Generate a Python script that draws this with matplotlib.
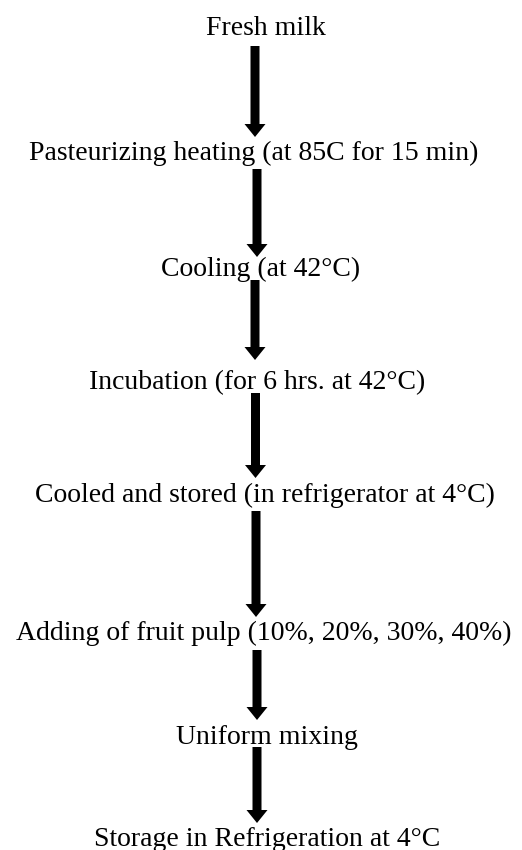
import matplotlib
matplotlib.use("Agg")
import matplotlib.pyplot as plt
from matplotlib import rcParams

rcParams.update({"font.family": ["Liberation Serif", "DejaVu Serif"]})

# flow steps (top to bottom)
steps = [
    "Fresh milk",
    "Pasteurizing heating (at 85C for 15 min)",
    "Cooling (at 42°C)",
    "Incubation (for 6 hrs. at 42°C)",
    "Cooled and stored (in refrigerator at 4°C)",
    "Adding of fruit pulp (10%, 20%, 30%, 40%)",
    "Uniform mixing",
    "Storage in Refrigeration at 4°C",
]
# text centre x and baseline y in pixels (y measured from the top)
step_x = [266, 254, 261, 257, 265, 264, 267, 267]
step_y = [35, 160, 276, 389, 502, 640, 744, 846]

# arrows between steps: x, start y, tip y
arrow_x = [255, 257, 255, 255.5, 256, 257, 257]
arrow_y0 = [46, 169, 280, 393, 511, 650, 747]
arrow_y1 = [137, 257, 360, 478, 617, 720, 823]

fig = plt.figure(figsize=(5.22, 8.5), dpi=100)
ax = fig.add_axes([0, 0, 1, 1])
ax.set_xlim(0, 522)
ax.set_ylim(850, 0)
ax.axis("off")

for label, x, y in zip(steps, step_x, step_y):
    ax.text(x, y, label, ha="center", va="baseline", fontsize=20, color="black")

for x, y0, y1 in zip(arrow_x, arrow_y0, arrow_y1):
    ax.arrow(x, y0, 0, y1 - y0, width=9, head_width=21, head_length=13,
             length_includes_head=True, color="black", linewidth=0)

fig.savefig("out.png", dpi=100)
